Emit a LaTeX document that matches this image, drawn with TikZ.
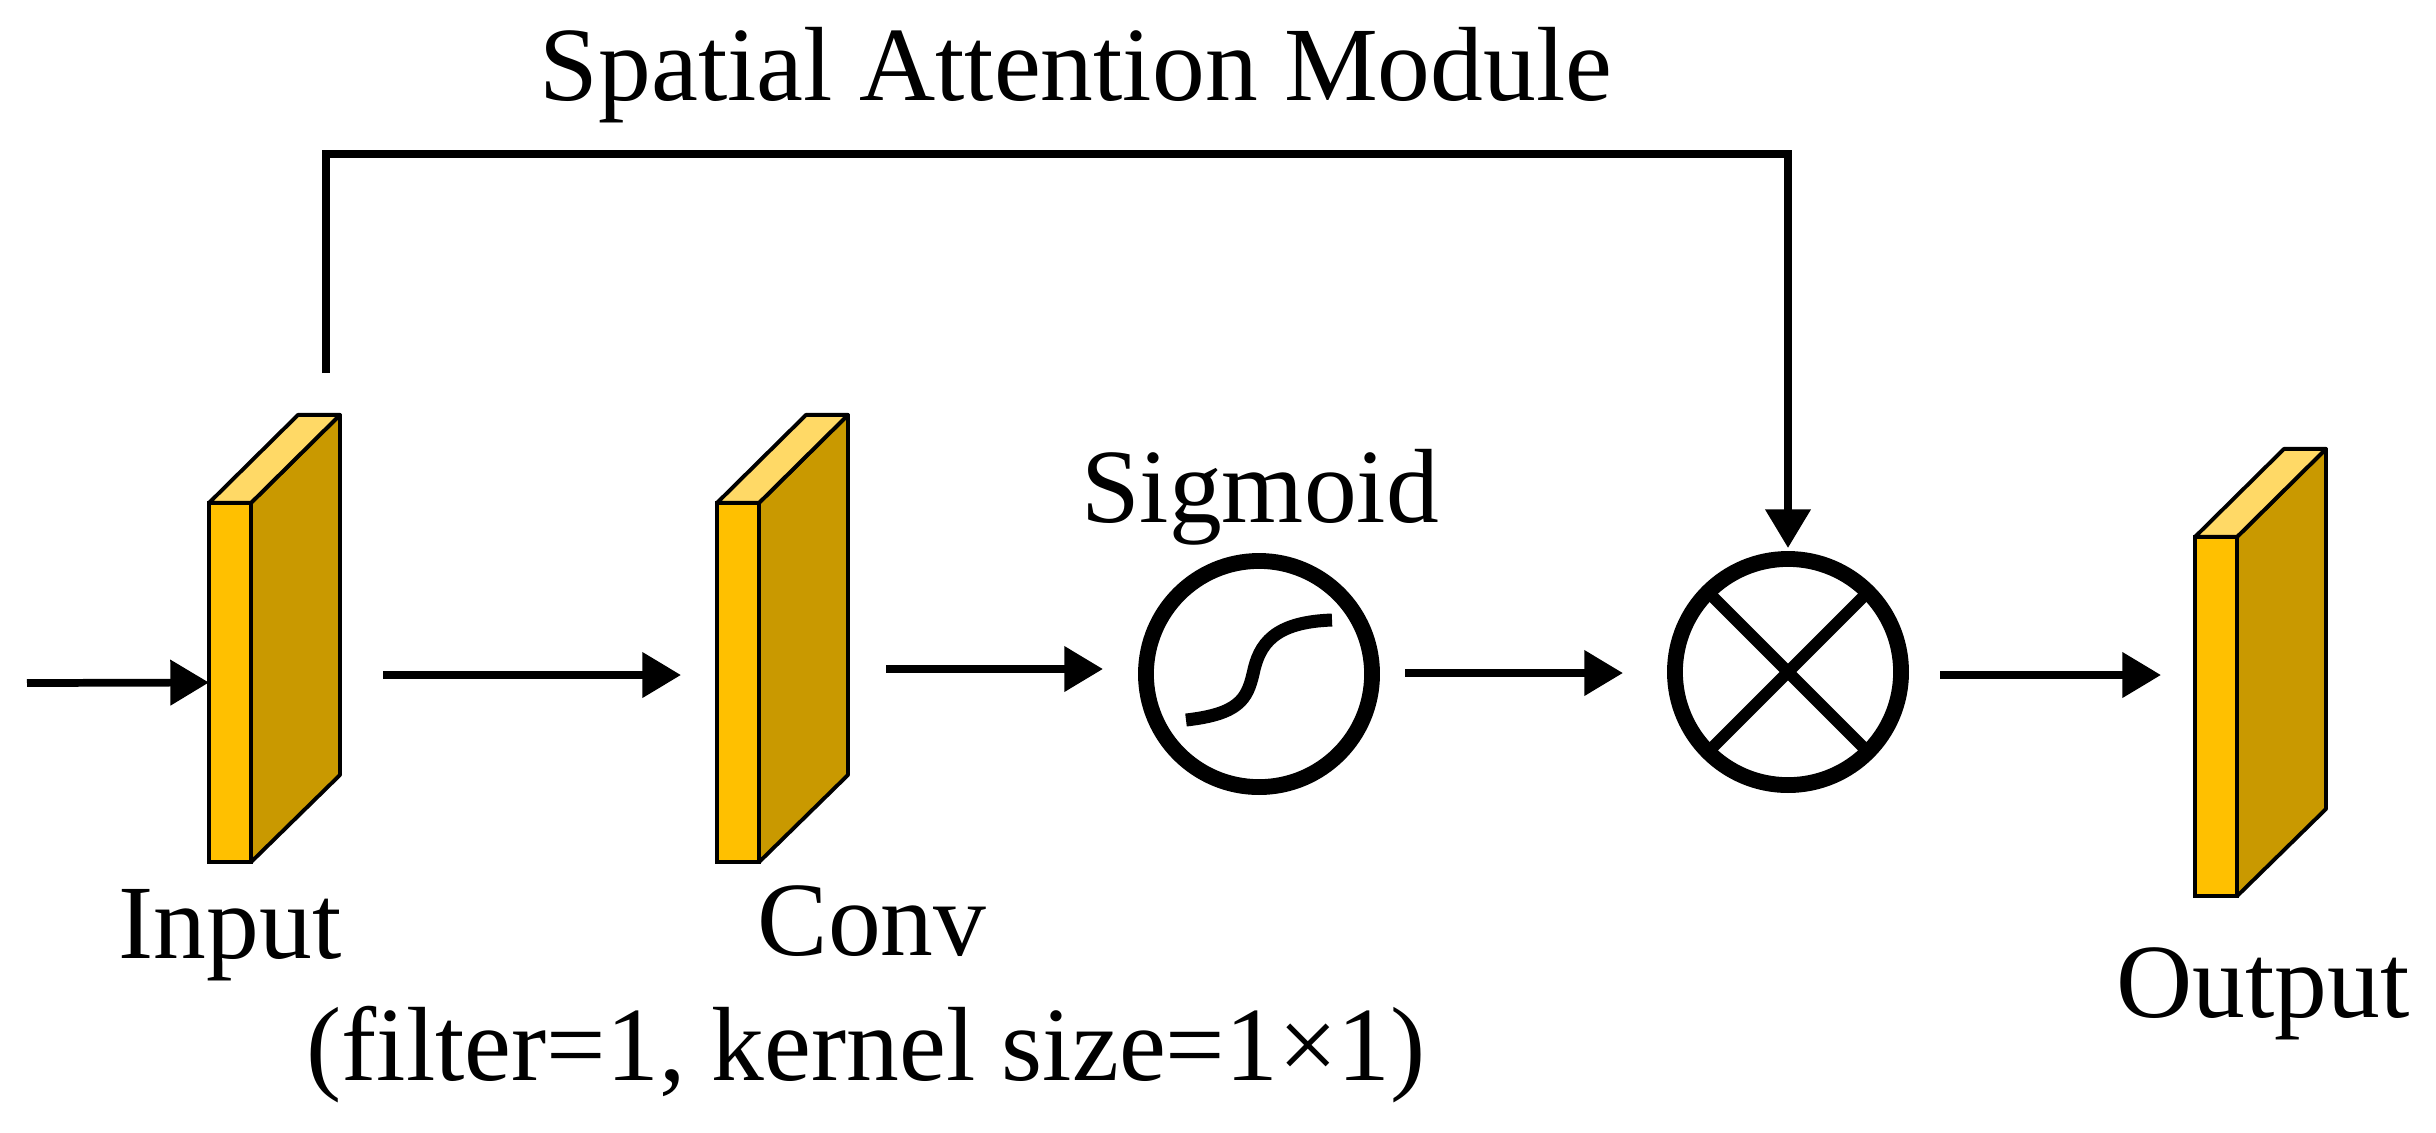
\documentclass[tikz,border=0pt]{standalone}
\usepackage{fontspec}
\setmainfont{Liberation Serif}
\usepackage{tikz}
\usetikzlibrary{arrows.meta,positioning,calc}
\definecolor{fmfront}{RGB}{255,192,0}
\definecolor{fmside}{RGB}{201,153,0}
\definecolor{fmtop}{RGB}{255,217,102}

\begin{document}
\begin{tikzpicture}[x=0.01cm,y=-0.01cm,
  font=\fontsize{30}{36}\selectfont,
  fmap/.style={draw,line width=1.1pt,fill=fmfront,minimum width=0.42cm,minimum height=3.59cm,inner sep=0pt,outer sep=0pt},
  face/.style={draw,line width=1.1pt,line join=round},
  op/.style={draw,circle,line width=4.5pt,minimum size=2.26cm,inner sep=0pt,outer sep=0pt},
  lbl/.style={anchor=base,inner sep=0pt},
  ar/.style={-{Triangle[length=11pt,width=12.5pt]},line width=2.2pt}]
\useasboundingbox (0,0) rectangle (2436,1132);
% feature maps
\node[fmap] (in) at (230,682.5) {};
\node[fmap] (cv) at (738,682.5) {};
\node[fmap] (out) at (2216,716.5) {};
\foreach \b in {in,cv,out} {
  \draw[face,fill=fmside] (\b.north east) -- ++(89,-88) -- ++(0,360) -- (\b.south east) -- cycle;
  \draw[face,fill=fmtop] (\b.north west) -- ++(89,-88) -- ++(42,0) -- (\b.north east) -- cycle;
}
% sigmoid and product
\node[op] (sig) at (1259,674) {};
\node[op] (mul) at (1788,672) {};
\begin{scope}[shift={(sig)}]
  \draw[line width=3.7pt] (-73,46) .. controls (-20,40) and (-12,25) .. (-6,0)
    .. controls (0,-30) and (15,-52) .. (73,-54);
\end{scope}
\draw[line width=3.4pt] ($(mul)+(45:113)$) -- ($(mul)+(225:113)$)
  ($(mul)+(135:113)$) -- ($(mul)+(-45:113)$);
% labels
\node[lbl] (ttl) at (1076,100) {Spatial Attention Module};
\node[lbl] (inl) at (230,958) {Input};
\node[lbl] (cvl) at (872,955) {Conv};
\node[lbl] (cvp) at (866,1080) {(filter=1, kernel size=1×1)};
\node[lbl] (sgl) at (1260,522) {Sigmoid};
\node[lbl] (outl) at (2263,1017) {Output};
% connectors
\coordinate (src) at (27,683);
\coordinate (tap) at (326,373);
\draw[ar] (src) -- (in.west);
\draw[ar] ($(in.east)+(132,-7.5)$) -- ($(cv.west)+(-36,-7.5)$);
\draw[ar] ($(cv.east)+(127,-13.5)$) -- ($(sig.west)+(-43,-5)$);
\draw[ar] ($(sig.east)+(33,-1)$) -- ($(mul.west)+(-52,1)$);
\draw[ar] ($(mul.east)+(39,3)$) -- ($(out.west)+(-34,-41.5)$);
\draw[ar] (tap) -- ++(0,-219) -| ($(mul.north)+(0,-11)$);
\end{tikzpicture}
\end{document}
